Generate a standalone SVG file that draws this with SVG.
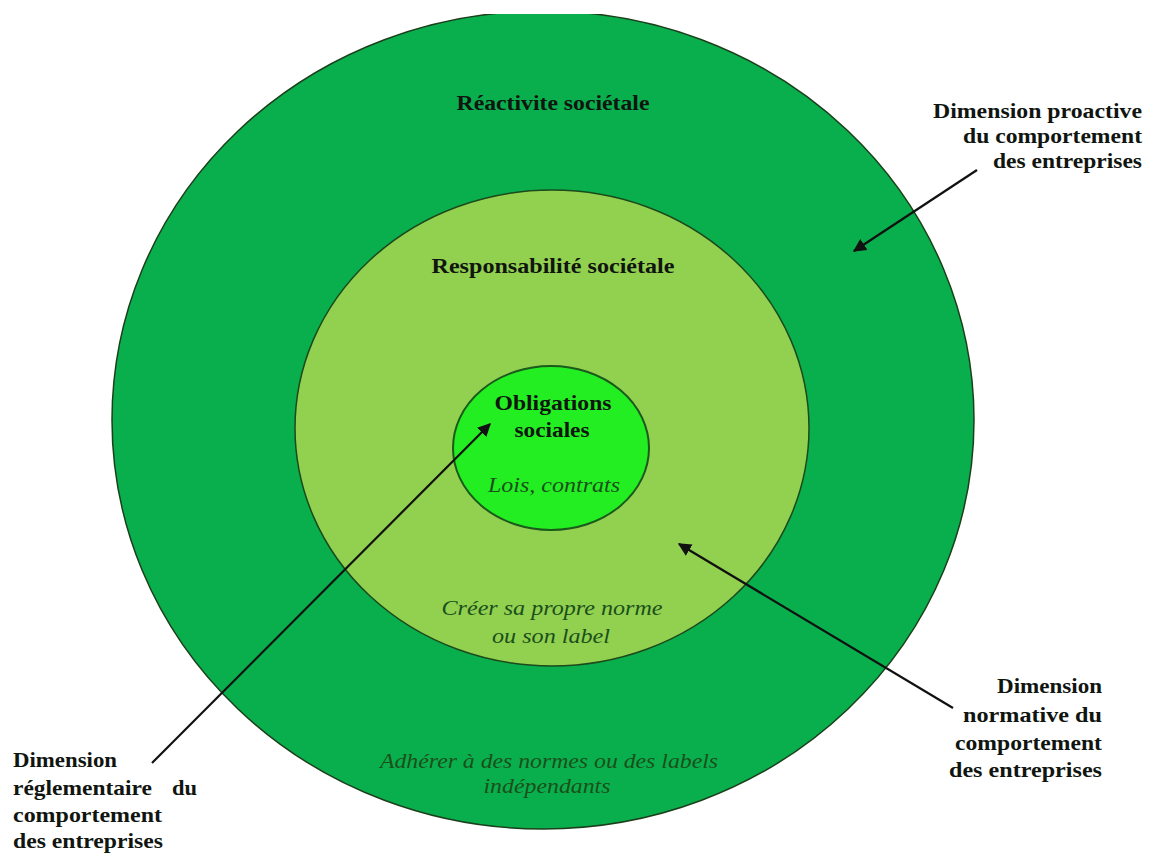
<svg xmlns="http://www.w3.org/2000/svg" width="1152" height="856" viewBox="0 0 1152 856">
<style>
.b{font-family:"Liberation Serif","Times New Roman",serif;font-weight:bold;font-size:21px;fill:#101510;}
.i{font-family:"Liberation Serif","Times New Roman",serif;font-style:italic;font-size:21px;fill:#1a4f1a;}
.c{text-anchor:middle;}
.r{text-anchor:end;}
.arr{stroke:#111;stroke-width:2.2;fill:none;marker-end:url(#ah);}
</style>
<defs>
<marker id="ah" viewBox="0 0 10 10" refX="9" refY="5" markerWidth="6" markerHeight="6" orient="auto" markerUnits="strokeWidth">
<path d="M0,0 L10,5 L0,10 z" fill="#111"/>
</marker>
<clipPath id="clipTop"><rect x="0" y="14" width="1152" height="842"/></clipPath>
</defs>
<rect width="1152" height="856" fill="#fff"/>
<g id="outer">
<ellipse cx="543" cy="420" rx="431" ry="409" fill="#0aaf4d" stroke="#1b3f1b" stroke-width="1.5" clip-path="url(#clipTop)"/>
<text class="b c" x="553" y="110" textLength="193" lengthAdjust="spacingAndGlyphs">Réactivite sociétale</text>
<text class="i c" x="549" y="768" textLength="338" lengthAdjust="spacingAndGlyphs">Adhérer à des normes ou des labels</text>
<text class="i c" x="547" y="793" textLength="127" lengthAdjust="spacingAndGlyphs">indépendants</text>
</g>
<g id="middle">
<ellipse cx="552" cy="428" rx="257" ry="238" fill="#92d050" stroke="#1b4a1b" stroke-width="1.5"/>
<text class="b c" x="553" y="273" textLength="243" lengthAdjust="spacingAndGlyphs">Responsabilité sociétale</text>
<text class="i c" x="552" y="615" textLength="221" lengthAdjust="spacingAndGlyphs">Créer sa propre norme</text>
<text class="i c" x="551" y="643" textLength="118" lengthAdjust="spacingAndGlyphs">ou son label</text>
</g>
<g id="inner">
<ellipse cx="551" cy="448" rx="98" ry="82" fill="#22ee22" stroke="#1b5a1b" stroke-width="2"/>
<text class="b c" x="553" y="410" textLength="117" lengthAdjust="spacingAndGlyphs">Obligations</text>
<text class="b c" x="552" y="437" textLength="75" lengthAdjust="spacingAndGlyphs">sociales</text>
<text class="i c" x="554" y="492" textLength="132" lengthAdjust="spacingAndGlyphs">Lois, contrats</text>
</g>
<g id="label-proactive">
<text class="b r" x="1142" y="118" textLength="209" lengthAdjust="spacingAndGlyphs">Dimension proactive</text>
<text class="b r" x="1142" y="143" textLength="179" lengthAdjust="spacingAndGlyphs">du comportement</text>
<text class="b r" x="1142" y="168" textLength="149" lengthAdjust="spacingAndGlyphs">des entreprises</text>
</g>
<g id="label-normative">
<text class="b r" x="1102" y="693" textLength="105" lengthAdjust="spacingAndGlyphs">Dimension</text>
<text class="b r" x="1102" y="722" textLength="139" lengthAdjust="spacingAndGlyphs">normative du</text>
<text class="b r" x="1102" y="750" textLength="147" lengthAdjust="spacingAndGlyphs">comportement</text>
<text class="b r" x="1102" y="777" textLength="153" lengthAdjust="spacingAndGlyphs">des entreprises</text>
</g>
<g id="label-reglementaire">
<text class="b" x="13" y="767" textLength="104" lengthAdjust="spacingAndGlyphs">Dimension</text>
<text class="b" x="13" y="795" textLength="139" lengthAdjust="spacingAndGlyphs">réglementaire</text>
<text class="b" x="172" y="795" textLength="25" lengthAdjust="spacingAndGlyphs">du</text>
<text class="b" x="13" y="822" textLength="149" lengthAdjust="spacingAndGlyphs">comportement</text>
<text class="b" x="13" y="848" textLength="150" lengthAdjust="spacingAndGlyphs">des entreprises</text>
</g>
<g id="connectors">
<line class="arr" x1="977" y1="170" x2="854" y2="251"/>
<line class="arr" x1="953" y1="708" x2="679" y2="544"/>
<line class="arr" x1="152" y1="763" x2="490" y2="424"/>
</g>
</svg>
